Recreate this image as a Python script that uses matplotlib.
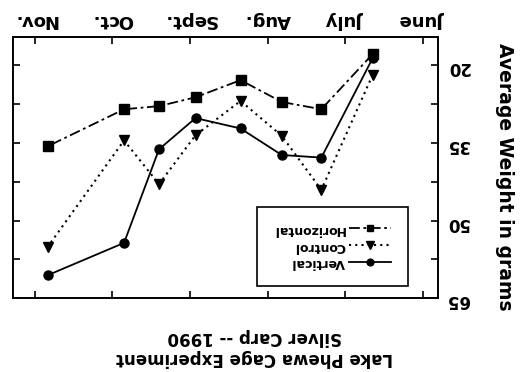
import matplotlib.pyplot as plt
import numpy as np

plt.rcParams['font.family'] = 'DejaVu Sans'
plt.rcParams['font.weight'] = 'bold'

# months on the axis (0 = June) and sampling dates as fractional months
months = ['June', 'July', 'Aug.', 'Sept.', 'Oct.', 'Nov.']
sample_month = [0.65, 1.31, 1.82, 2.35, 2.93, 3.40, 3.85, 4.83]

# average weight (g) per cage type
vertical = [18.8, 37.9, 37.4, 32.3, 30.3, 36.3, 54.3, 60.5]
control = [22.0, 44.1, 33.7, 27.0, 33.6, 43.0, 34.6, 55.0]
horizontal = [18.0, 28.6, 27.2, 23.0, 26.3, 28.0, 28.6, 35.7]

yticks = [20, 27.5, 35, 42.5, 50, 57.5, 65]
ylabels = ['20', '', '35', '', '50', '', '65']

fig = plt.figure(figsize=(5.2, 3.72), dpi=100)
ax = fig.add_axes([0.025, 0.1976, 0.817, 0.7016])

lv, = ax.plot(sample_month, vertical, '-', color='black', lw=1.3,
              marker='o', ms=6.5, label='Vertical')
lc, = ax.plot(sample_month, control, color='black', lw=1.5, ls=(0, (1, 2)),
              marker='v', ms=7, label='Control')
lh, = ax.plot(sample_month, horizontal, color='black', lw=1.3,
              ls=(0, (6, 2, 1.5, 2)), marker='s', ms=6.5, label='Horizontal')

# the whole figure is drawn turned through 180 degrees
ax.set_xlim(5.28, -0.19)
ax.set_ylim(65, 14.8)
ax.set_xticks(np.arange(len(months)))
ax.set_xticklabels(months, fontsize=13, rotation=180)
ax.set_yticks(yticks)
ax.set_yticklabels(ylabels, fontsize=12, rotation=180)
ax.tick_params(direction='in', length=5, width=1.2, top=True, bottom=True,
               left=True, right=True, labeltop=True, labelbottom=False,
               labelright=True, labelleft=False, pad=6)
for s in ax.spines.values():
    s.set_linewidth(1.4)

leg = ax.legend(handles=[lh, lc, lv], loc='center',
                bbox_to_anchor=(0.751, 0.201), markerfirst=False,
                fancybox=False, framealpha=1, edgecolor='black',
                prop={'size': 9, 'weight': 'bold'}, handlelength=3.4,
                handletextpad=0.3, labelspacing=0.3, borderpad=1.3,
                markerscale=0.75)
leg.get_frame().set_linewidth(1.2)
for t in leg.get_texts():
    t.set_rotation(180)

fig.text(0.971, 0.524, 'Average Weight in grams', rotation=270,
         ha='center', va='center', fontsize=13.5)
fig.text(0.49, 0.066, 'Lake Phewa Cage Experiment\nSilver Carp -- 1990',
         rotation=180, ha='center', va='center', fontsize=12,
         multialignment='center', linespacing=1.25)

fig.savefig('out.png', dpi=100)
